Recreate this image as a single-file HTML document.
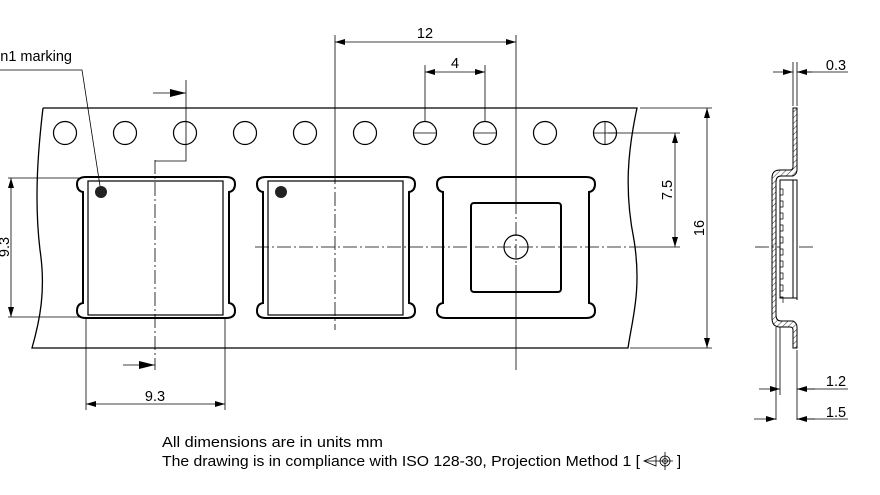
<!DOCTYPE html>
<html><head><meta charset="utf-8"><style>
html,body{margin:0;padding:0;background:#fff;}
svg{display:block;font-family:"Liberation Sans",Arial,sans-serif;}
</style></head><body>
<svg width="880" height="495" viewBox="0 0 880 495" xmlns="http://www.w3.org/2000/svg">
<defs>
<marker id="a" viewBox="0 0 10 6" refX="10" refY="3" markerWidth="10" markerHeight="6" orient="auto-start-reverse" markerUnits="userSpaceOnUse"><path d="M0,0 L10,3 L0,6Z" fill="#000"/></marker>
<marker id="b" viewBox="0 0 16 8" refX="16" refY="4" markerWidth="16" markerHeight="8" orient="auto" markerUnits="userSpaceOnUse"><path d="M0,0 L16,4 L0,8Z" fill="#000"/></marker>
<pattern id="h" width="4" height="4" patternUnits="userSpaceOnUse" patternTransform="rotate(45)"><line x1="0" y1="0" x2="0" y2="4" stroke="#000" stroke-width="0.8"/></pattern>
</defs>
<g fill="none" stroke="#000" stroke-width="1">
<path d="M43,108 H637 C628,150 624,190 634,240 C642,290 632,320 628,348 H32 C40,320 46,290 40,250 C34,200 38,150 43,108" stroke-width="1.3"/>
<g stroke-width="1.2">
<circle cx="65" cy="133" r="11.5"/><circle cx="125" cy="133" r="11.5"/><circle cx="185" cy="133" r="11.5"/><circle cx="245" cy="133" r="11.5"/><circle cx="305" cy="133" r="11.5"/><circle cx="365" cy="133" r="11.5"/><circle cx="425" cy="133" r="11.5"/><circle cx="485" cy="133" r="11.5"/><circle cx="545" cy="133" r="11.5"/><circle cx="605" cy="133" r="11.5"/>
</g>
<path d="M593,133 H617 M605,121 V145 M473,133 H497 M413,133 H437" stroke-width="0.8"/>
<g stroke-width="2">
<path d="M86,177 H226 Q235,177 235,184 Q235,191 229,192 V303 Q235,304 235,311 Q235,318 226,318 H86 Q77,318 77,311 Q77,304 83,303 V192 Q77,191 77,184 Q77,177 86,177Z"/>
<path d="M266,177 H406 Q415,177 415,184 Q415,191 409,192 V303 Q415,304 415,311 Q415,318 406,318 H266 Q257,318 257,311 Q257,304 263,303 V192 Q257,191 257,184 Q257,177 266,177Z"/>
<path d="M446,177 H586 Q595,177 595,184 Q595,191 589,192 V303 Q595,304 595,311 Q595,318 586,318 H446 Q437,318 437,311 Q437,304 443,303 V192 Q437,191 437,184 Q437,177 446,177Z"/>
<rect x="471" y="203" width="90" height="89" rx="3"/>
</g>
<rect x="88" y="181" width="135" height="134" stroke-width="1.2"/>
<rect x="268" y="181" width="135" height="134" stroke-width="1.2"/>
<circle cx="516" cy="247" r="12" stroke-width="1.2"/>
<g stroke-width="0.8" stroke-dasharray="14,3,2,3">
<line x1="255" y1="247" x2="640" y2="247"/>
<line x1="516" y1="200" x2="516" y2="265"/>
<line x1="155" y1="160" x2="155" y2="370"/>
<line x1="335" y1="170" x2="335" y2="330"/>
<line x1="755" y1="247" x2="815" y2="247"/>
</g>
<g stroke-width="0.8">
<line x1="516" y1="35" x2="516" y2="200"/><line x1="516" y1="265" x2="516" y2="370"/>
<line x1="335" y1="35" x2="335" y2="170"/>
<line x1="425" y1="65" x2="425" y2="121"/><line x1="485" y1="65" x2="485" y2="121"/>
<line x1="335" y1="42" x2="516" y2="42" marker-start="url(#a)" marker-end="url(#a)"/>
<line x1="425" y1="72" x2="485" y2="72" marker-start="url(#a)" marker-end="url(#a)"/>
<path d="M186,80 V161 H155"/>
<line x1="153" y1="93" x2="186" y2="93" marker-end="url(#b)"/>
<line x1="123" y1="365" x2="155" y2="365" marker-end="url(#b)"/>
<line x1="86" y1="318" x2="86" y2="410"/><line x1="225" y1="318" x2="225" y2="410"/>
<line x1="86" y1="404" x2="225" y2="404" marker-start="url(#a)" marker-end="url(#a)"/>
<line x1="8" y1="178" x2="80" y2="178"/><line x1="8" y1="317" x2="80" y2="317"/>
<line x1="11" y1="178" x2="11" y2="317" marker-start="url(#a)" marker-end="url(#a)"/>
<path d="M0,70 H82 L100,186"/>
<line x1="608" y1="133" x2="680" y2="133"/><line x1="640" y1="247" x2="680" y2="247"/>
<line x1="675" y1="133" x2="675" y2="247" marker-start="url(#a)" marker-end="url(#a)"/>
<line x1="640" y1="108" x2="712" y2="108"/><line x1="630" y1="348" x2="712" y2="348"/>
<line x1="707" y1="108" x2="707" y2="348" marker-start="url(#a)" marker-end="url(#a)"/>
<line x1="793" y1="62" x2="793" y2="106"/><line x1="797" y1="62" x2="797" y2="106"/>
<line x1="773" y1="72" x2="793" y2="72" marker-end="url(#a)"/>
<line x1="812" y1="72" x2="797" y2="72" marker-end="url(#a)"/>
<line x1="797" y1="72" x2="848" y2="72"/>
<line x1="776" y1="327" x2="776" y2="420"/><line x1="780" y1="327" x2="780" y2="395"/><line x1="797" y1="350" x2="797" y2="420"/>
<line x1="759" y1="389" x2="780" y2="389" marker-end="url(#a)"/>
<line x1="815" y1="389" x2="797" y2="389" marker-end="url(#a)"/>
<line x1="797" y1="389" x2="848" y2="389"/>
<line x1="754" y1="419" x2="776" y2="419" marker-end="url(#a)"/>
<line x1="815" y1="419" x2="797" y2="419" marker-end="url(#a)"/>
<line x1="797" y1="419" x2="848" y2="419"/>
</g>
<g stroke-width="1">
<path d="M793,108 H797 V170 Q797,174 793,176 H781 Q776,176 776,182 V315 Q776,321 781,321 H793 Q797,323 797,327 V348 H793 V330 Q793,327 790,327 H780 Q772,327 772,318 V178 Q772,170 780,170 H790 Q793,170 793,167 Z" fill="url(#h)"/>
<rect x="780" y="180" width="17" height="118" fill="#fff"/>
<path d="M780,180 H793 V298 H780Z"/>
<path d="M780,183 v6 h3 v6 h-3 v6 h3 v6 h-3 v6 h3 v6 h-3 v6 h3 v6 h-3 v6 h3 v6 h-3 v6 h3 v6 h-3 v6 h3 v6 h-3 v6 h3 v6 h-3 v6 h3 v6 h-3 v6 h3 v6" stroke-width="0.7"/>
<line x1="797" y1="180" x2="797" y2="300"/>
</g>
</g>
<circle cx="101" cy="192" r="6" fill="#222"/>
<circle cx="281" cy="192" r="6" fill="#222"/>
<g font-size="14.5" fill="#000">
<text x="72" y="61" text-anchor="end">Pin1 marking</text>
<text x="425" y="38" text-anchor="middle">12</text>
<text x="455" y="68" text-anchor="middle">4</text>
<text x="155" y="401" text-anchor="middle">9.3</text>
<text transform="translate(9,247) rotate(-90)" text-anchor="middle">9.3</text>
<text transform="translate(672,190) rotate(-90)" text-anchor="middle">7.5</text>
<text transform="translate(704,228) rotate(-90)" text-anchor="middle">16</text>
<text x="836" y="70" text-anchor="middle">0.3</text>
<text x="836" y="386" text-anchor="middle">1.2</text>
<text x="836" y="417" text-anchor="middle">1.5</text>
<text x="162" y="447" textLength="221" lengthAdjust="spacingAndGlyphs">All dimensions are in units mm</text>
<text x="162" y="466" textLength="478" lengthAdjust="spacingAndGlyphs">The drawing is in compliance with ISO 128-30, Projection Method 1 [</text>
<text x="677" y="466">]</text>
</g>
<g fill="none" stroke="#000" stroke-width="0.8">
<path d="M644,461 L656,456 V466 Z"/>
<circle cx="665" cy="461" r="5"/><circle cx="665" cy="461" r="2.5"/>
<path d="M644,461 H673 M665,452 V470"/>
</g>
</svg>
</body></html>
